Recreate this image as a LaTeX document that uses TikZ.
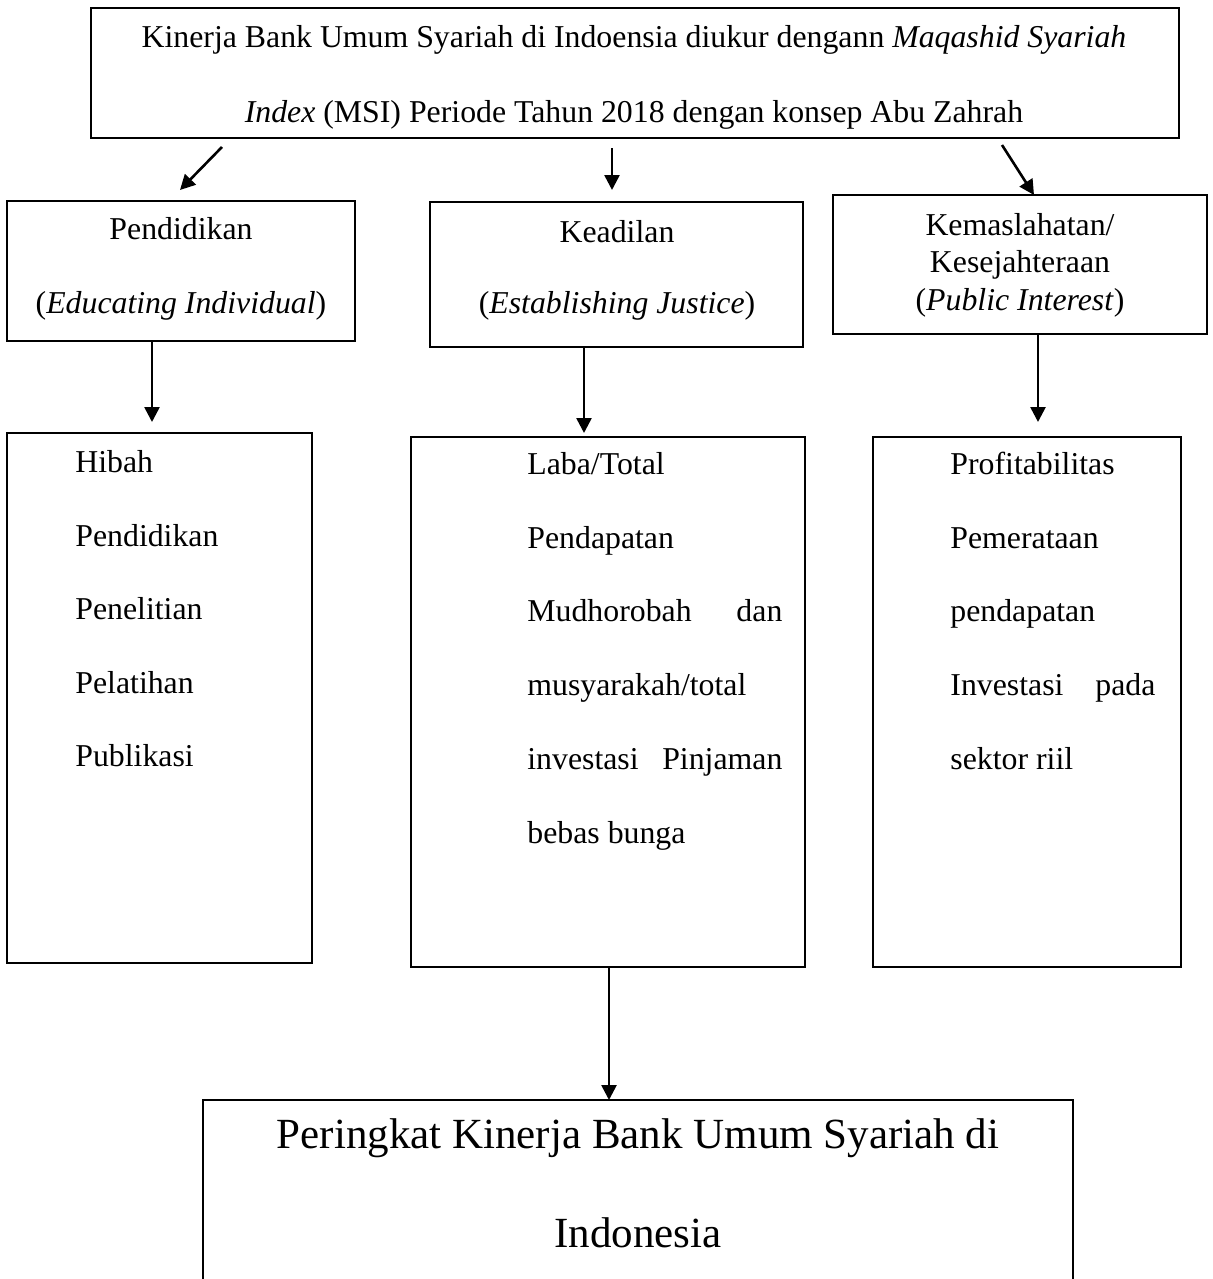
\documentclass[tikz,border=0pt]{standalone}
\usepackage{fontspec}
\setmainfont{Liberation Serif}
\usetikzlibrary{arrows.meta}
\tikzset{
  box/.style={draw, line width=1pt, inner sep=0pt, minimum width=#1},
  txt/.style={inner sep=0pt, anchor=base, font=\fontsize{15.9}{19}\selectfont},
  ltxt/.style={inner sep=0pt, anchor=base west, font=\fontsize{15.9}{19}\selectfont},
  bigtxt/.style={inner sep=0pt, anchor=base, font=\fontsize{21.5}{25}\selectfont},
  arr/.style={line width=1.3pt, -{Triangle[length=7.5pt,width=7.5pt]}}
}
\begin{document}
\begin{tikzpicture}[x=0.5pt,y=-0.5pt]
\useasboundingbox (0,0) rectangle (1213,1279);
% boxes
\node[box=544pt, minimum height=65pt] (top) at (635,73) {};
\node[box=174pt, minimum height=70pt] (pend) at (181,271) {};
\node[box=186.5pt, minimum height=72.5pt] (kead) at (616.5,274.5) {};
\node[box=187pt, minimum height=69.5pt] (kemas) at (1020,264.5) {};
\node[box=152.5pt, minimum height=265pt] (hibah) at (159.5,698) {};
\node[box=197pt, minimum height=265pt] (laba) at (608,702) {};
\node[box=154pt, minimum height=265pt] (profit) at (1027,702) {};
\node[inner sep=0pt, minimum width=435pt, minimum height=100pt] (rank) at (638,1200) {};
\draw[line width=1pt] (rank.west |- 0,1279) -- (rank.north west) -- (rank.north east) -- (rank.east |- 0,1279);
% top text
\node[txt] (t1) at (634,48) {Kinerja Bank Umum Syariah di Indoensia diukur dengann \textit{Maqashid Syariah}};
\node[txt] (t2) at (634,123) {\textit{Index} (MSI) Periode Tahun 2018 dengan konsep Abu Zahrah};
% second row text
\node[txt] (p1) at (181,239) {Pendidikan};
\node[txt] (p2) at (181,313) {(\textit{Educating Individual})};
\node[txt] (k1) at (617,242) {Keadilan};
\node[txt] (k2) at (617,313) {(\textit{Establishing Justice})};
\node[txt] (m1) at (1020,235) {Kemaslahatan/};
\node[txt] (m2) at (1020,272) {Kesejahteraan};
\node[txt] (m3) at (1020,310) {(\textit{Public Interest})};
% hibah
\node[ltxt] (h1) at (75,472) {Hibah};
\node[ltxt] (h2) at (75,546) {Pendidikan};
\node[ltxt] (h3) at (75,619) {Penelitian};
\node[ltxt] (h4) at (75,693) {Pelatihan};
\node[ltxt] (h5) at (75,766) {Publikasi};
% laba
\node[ltxt] (l1) at (527,474) {Laba/Total};
\node[ltxt] (l2) at (527,548) {Pendapatan};
\node[ltxt] (l3) at (527,621) {\hbox to 127.5pt{Mudhorobah\hfill dan}};
\node[ltxt] (l4) at (527,695) {musyarakah/total};
\node[ltxt] (l5) at (527,769) {\hbox to 127.5pt{investasi\hfill Pinjaman}};
\node[ltxt] (l6) at (527,843) {bebas bunga};
% profit
\node[ltxt] (r1) at (950,474) {Profitabilitas};
\node[ltxt] (r2) at (950,548) {Pemerataan};
\node[ltxt] (r3) at (950,621) {pendapatan};
\node[ltxt] (r4) at (950,695) {\hbox to 102.5pt{Investasi\hfill pada}};
\node[ltxt] (r5) at (950,769) {sektor riil};
% bottom text
\node[bigtxt] (b1) at (638,1148) {Peringkat Kinerja Bank Umum Syariah di};
\node[bigtxt] (b2) at (638,1247) {Indonesia};
% arrow end points
\coordinate (a1s) at (222,147); \coordinate (a1e) at (180,190);
\coordinate (a2s) at (612,148); \coordinate (a2e) at (612,190);
\coordinate (a3s) at (1002,145); \coordinate (a3e) at (1034,195);
\coordinate (a4s) at (152,341); \coordinate (a4e) at (152,422);
\coordinate (a5s) at (584,347); \coordinate (a5e) at (584,433);
\coordinate (a6s) at (1038,334); \coordinate (a6e) at (1038,422);
\coordinate (a7s) at (609,967); \coordinate (a7e) at (609,1100);
\draw[arr] (a1s) -- (a1e);
\draw[arr] (a2s) -- (a2e);
\draw[arr] (a3s) -- (a3e);
\draw[arr] (a4s) -- (a4e);
\draw[arr] (a5s) -- (a5e);
\draw[arr] (a6s) -- (a6e);
\draw[arr] (a7s) -- (a7e);
\end{tikzpicture}
\end{document}
